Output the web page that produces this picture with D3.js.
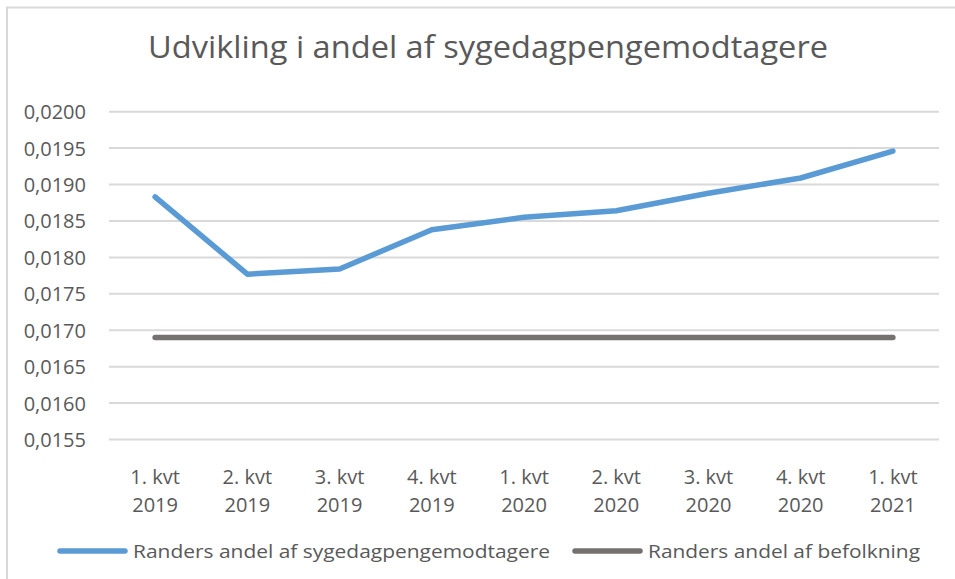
<!DOCTYPE html>
<html>
<head>
<meta charset="utf-8">
<script src="https://cdn.jsdelivr.net/npm/d3@7"></script>
<style>
  html, body { margin: 0; padding: 0; background: #fff; }
  svg { display: block; font-family: "Open Sans", sans-serif; }
</style>
</head>
<body>
<svg width="955" height="579"></svg>
<script>
var quarters = ["1. kvt", "2. kvt", "3. kvt", "4. kvt", "1. kvt", "2. kvt", "3. kvt", "4. kvt", "1. kvt"];
var years = ["2019", "2019", "2019", "2019", "2020", "2020", "2020", "2020", "2021"];
var sygedagpenge = [0.01883, 0.01777, 0.01784, 0.01838, 0.01855, 0.01864, 0.01888, 0.01909, 0.01946];
var befolkning = [0.0169, 0.0169, 0.0169, 0.0169, 0.0169, 0.0169, 0.0169, 0.0169, 0.0169];
var yTicks = [0.0155, 0.0160, 0.0165, 0.0170, 0.0175, 0.0180, 0.0185, 0.0190, 0.0195, 0.0200];
var seriesNames = ["Randers andel af sygedagpengemodtagere", "Randers andel af befolkning"];
var colors = ["#5b9bd5", "#767171"];

var svg = d3.select("svg");
var textColor = "#595959";

// chart border (clipped on right/bottom like the original)
svg.append("path")
    .attr("d", "M7,579 V7.5 H955")
    .attr("fill", "none")
    .attr("stroke", "#d9d9d9")
    .attr("stroke-width", 2);

svg.append("text")
    .attr("x", 488).attr("y", 58)
    .attr("text-anchor", "middle")
    .attr("fill", textColor)
    .attr("font-size", 31)
    .attr("textLength", 680)
    .attr("lengthAdjust", "spacingAndGlyphs")
    .text("Udvikling i andel af sygedagpengemodtagere");

var idx = d3.range(quarters.length);
var x = d3.scaleBand().domain(idx).range([109, 939]);
var y = d3.scaleLinear().domain([0.0155, 0.0200]).range([439.5, 111.7]);

// gridlines
svg.append("g")
    .selectAll("line")
    .data(yTicks)
    .join("line")
    .attr("x1", 109).attr("x2", 939)
    .attr("y1", function (d) { return y(d); })
    .attr("y2", function (d) { return y(d); })
    .attr("stroke", "#d9d9d9")
    .attr("stroke-width", 2);

// y labels
var fmt = function (d) { return d3.format(".4f")(d).replace(".", ","); };
var yAxis = svg.append("g")
    .attr("transform", "translate(86,0)")
    .call(d3.axisLeft(y).tickValues(yTicks).tickFormat(fmt).tickSize(0).tickPadding(0));
yAxis.select(".domain").remove();
yAxis.selectAll("text")
    .attr("fill", textColor)
    .attr("font-size", 20)
    .attr("font-family", "Open Sans, sans-serif")
    .attr("dy", "0.35em");

// x labels
var xl = svg.append("g")
    .selectAll("text")
    .data(idx)
    .join("text")
    .attr("text-anchor", "middle")
    .attr("fill", textColor)
    .attr("font-size", 20)
    .attr("transform", function (d) { return "translate(" + (x(d) + x.bandwidth() / 2) + ",0)"; });
xl.append("tspan").attr("x", 0).attr("y", 484).text(function (d) { return quarters[d]; });
xl.append("tspan").attr("x", 0).attr("y", 512).text(function (d) { return years[d]; });

var line = d3.line()
    .x(function (d, i) { return x(i) + x.bandwidth() / 2; })
    .y(function (d) { return y(d); });

[befolkning, sygedagpenge].forEach(function (s, k) {
    svg.append("path")
        .datum(s)
        .attr("d", line)
        .attr("fill", "none")
        .attr("stroke", k === 0 ? colors[1] : colors[0])
        .attr("stroke-width", 5.5)
        .attr("stroke-linecap", "round")
        .attr("stroke-linejoin", "round");
});

// legend
var legendX = [60, 575];
var legendW = [417, 272];
seriesNames.forEach(function (name, i) {
    var g = svg.append("g").attr("transform", "translate(" + legendX[i] + ",551)");
    g.append("line")
        .attr("x1", 0).attr("x2", 65)
        .attr("stroke", colors[i])
        .attr("stroke-width", 5.5)
        .attr("stroke-linecap", "round");
    g.append("text")
        .attr("x", 73).attr("dy", "0.35em")
        .attr("fill", textColor)
        .attr("font-size", 19)
        .attr("textLength", legendW[i])
        .attr("lengthAdjust", "spacingAndGlyphs")
        .text(name);
});
</script>
</body>
</html>
